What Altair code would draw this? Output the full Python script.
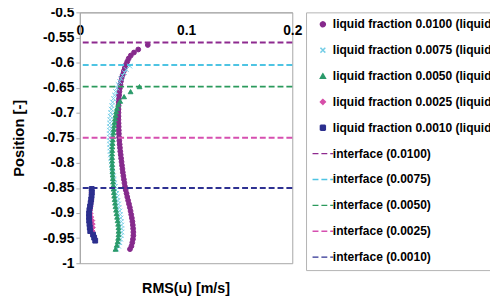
import altair as alt
import pandas as pd

FONT = "Liberation Sans"

point_labels = [
    "liquid fraction 0.0100 (liquid",
    "liquid fraction 0.0075 (liquid",
    "liquid fraction 0.0050 (liquid",
    "liquid fraction 0.0025 (liquid",
    "liquid fraction 0.0010 (liquid",
]
iface_labels = [
    "interface (0.0100)",
    "interface (0.0075)",
    "interface (0.0050)",
    "interface (0.0025)",
    "interface (0.0010)",
]
iface_y = [-0.56, -0.605, -0.648, -0.75, -0.85]

# (position, RMS(u)) pairs
s0100 = [(-0.565, 0.064), (-0.574, 0.055), (-0.580, 0.051), (-0.586, 0.048), (-0.592, 0.046),
         (-0.598, 0.0447), (-0.604, 0.0435), (-0.611, 0.0423), (-0.617, 0.0414), (-0.624, 0.0404),
         (-0.630, 0.0395), (-0.637, 0.0388), (-0.644, 0.0382), (-0.651, 0.0377), (-0.658, 0.0373),
         (-0.665, 0.0370), (-0.672, 0.0368), (-0.679, 0.0366), (-0.686, 0.0365), (-0.693, 0.0364),
         (-0.700, 0.0364), (-0.707, 0.0364), (-0.714, 0.0364), (-0.721, 0.0365), (-0.728, 0.0366),
         (-0.735, 0.0367), (-0.742, 0.0368), (-0.749, 0.0370), (-0.756, 0.0372), (-0.763, 0.0375),
         (-0.770, 0.0378), (-0.777, 0.0381), (-0.784, 0.0385), (-0.791, 0.0389), (-0.798, 0.0393),
         (-0.805, 0.0397), (-0.812, 0.0401), (-0.819, 0.0405), (-0.826, 0.0410), (-0.833, 0.0415),
         (-0.840, 0.0420), (-0.847, 0.0425), (-0.854, 0.0432), (-0.861, 0.0440), (-0.868, 0.0447),
         (-0.875, 0.0455), (-0.882, 0.0463), (-0.889, 0.0471), (-0.896, 0.0478), (-0.903, 0.0484),
         (-0.910, 0.0490), (-0.917, 0.0495), (-0.924, 0.0499), (-0.931, 0.0502), (-0.938, 0.0504),
         (-0.945, 0.0504), (-0.952, 0.0500), (-0.959, 0.0494), (-0.966, 0.0486), (-0.972, 0.0472)]
s0075 = [(-0.607, 0.0470), (-0.614, 0.0438), (-0.620, 0.0420), (-0.626, 0.0402), (-0.632, 0.0388),
         (-0.638, 0.0375), (-0.644, 0.0362), (-0.651, 0.0350), (-0.658, 0.0338), (-0.665, 0.0327),
         (-0.672, 0.0317), (-0.679, 0.0309), (-0.686, 0.0302), (-0.693, 0.0296), (-0.700, 0.0291),
         (-0.707, 0.0287), (-0.714, 0.0284), (-0.721, 0.0282), (-0.728, 0.0281), (-0.735, 0.0280),
         (-0.742, 0.0280), (-0.749, 0.0280), (-0.756, 0.0281), (-0.763, 0.0282), (-0.770, 0.0284),
         (-0.777, 0.0286), (-0.784, 0.0289), (-0.791, 0.0292), (-0.798, 0.0296), (-0.805, 0.0300),
         (-0.812, 0.0305), (-0.819, 0.0310), (-0.826, 0.0316), (-0.833, 0.0322), (-0.840, 0.0328),
         (-0.847, 0.0334), (-0.854, 0.0340), (-0.861, 0.0346), (-0.868, 0.0352), (-0.875, 0.0358),
         (-0.882, 0.0364), (-0.889, 0.0370), (-0.896, 0.0376), (-0.903, 0.0381), (-0.910, 0.0386),
         (-0.917, 0.0390), (-0.924, 0.0393), (-0.931, 0.0395), (-0.938, 0.0394), (-0.945, 0.0390),
         (-0.952, 0.0384), (-0.959, 0.0376), (-0.966, 0.0365), (-0.972, 0.0348)]
s0050 = [(-0.648, 0.0562), (-0.658, 0.0478), (-0.668, 0.0417), (-0.677, 0.0380), (-0.684, 0.0362),
         (-0.691, 0.0350), (-0.698, 0.0342), (-0.705, 0.0336), (-0.712, 0.0331), (-0.719, 0.0327),
         (-0.726, 0.0323), (-0.733, 0.0319), (-0.740, 0.0316), (-0.747, 0.0313), (-0.754, 0.0310),
         (-0.761, 0.0308), (-0.768, 0.0306), (-0.775, 0.0305), (-0.782, 0.0304), (-0.789, 0.0304),
         (-0.796, 0.0304), (-0.803, 0.0305), (-0.810, 0.0306), (-0.817, 0.0307), (-0.824, 0.0309),
         (-0.831, 0.0311), (-0.838, 0.0313), (-0.845, 0.0315), (-0.852, 0.0318), (-0.859, 0.0321),
         (-0.866, 0.0324), (-0.873, 0.0328), (-0.880, 0.0332), (-0.887, 0.0336), (-0.894, 0.0341),
         (-0.901, 0.0346), (-0.908, 0.0351), (-0.915, 0.0356), (-0.922, 0.0361), (-0.929, 0.0364),
         (-0.936, 0.0365), (-0.943, 0.0364), (-0.950, 0.0361), (-0.957, 0.0356), (-0.964, 0.0348),
         (-0.972, 0.0336)]
s0025 = [(-0.852, 0.0112), (-0.859, 0.0111), (-0.866, 0.0110), (-0.873, 0.0108), (-0.880, 0.0105),
         (-0.887, 0.0102), (-0.894, 0.0100), (-0.901, 0.0102), (-0.908, 0.0108), (-0.915, 0.0118),
         (-0.922, 0.0122), (-0.929, 0.0123), (-0.936, 0.0121), (-0.943, 0.0118)]
s0010 = [(-0.852, 0.0112), (-0.859, 0.0113), (-0.866, 0.0111), (-0.873, 0.0107), (-0.880, 0.0102),
         (-0.887, 0.0096), (-0.894, 0.0090), (-0.901, 0.0087), (-0.908, 0.0087), (-0.915, 0.0088),
         (-0.922, 0.0091), (-0.929, 0.0094), (-0.936, 0.0098), (-0.943, 0.0125), (-0.949, 0.0135),
         (-0.955, 0.0145)]

point_colors = ["#862a8c", "#74cde6", "#2a9a6a", "#d64ea8", "#2c2f8e"]
iface_colors = ["#8e2a8f", "#4ec4e3", "#2b9a5c", "#d64fb0", "#2e3192"]
point_shapes = ["circle", "M-1,-1L1,1M-1,1L1,-1", "triangle-up", "diamond", "square"]
iface_shape = "M-4.2,0L4.2,0"
point_dash = [1, 0]
iface_dash = [6, 3]

y_ticks = [-0.5, -0.55, -0.6, -0.65, -0.7, -0.75, -0.8, -0.85, -0.9, -0.95, -1.0]
x_ticks = [0, 0.1, 0.2]

rows = []
for lab, pts in zip(point_labels, [s0100, s0075, s0050, s0025, s0010]):
    for yv, xv in pts:
        rows.append({"series": lab, "x": xv, "y": yv})
points = pd.DataFrame(rows)
ifaces = pd.DataFrame({"series": iface_labels, "y": iface_y})

domain = point_labels + iface_labels
colors = point_colors + iface_colors
shapes = point_shapes + [iface_shape] * 5
dashes = [point_dash] * 5 + [iface_dash] * 5

xs = alt.Scale(domain=[0, 0.2], nice=False, zero=False)
ys = alt.Scale(domain=[-1, -0.5], nice=False, zero=False)
leg = alt.Legend(title=None)

x_axis = alt.Axis(orient="top", values=x_ticks, format="~g", ticks=False, tickSize=0,
                  labelPadding=-18, labelBaseline="middle", labelFlush=False,
                  labelOverlap=False, title=None, grid=False)
y_axis = alt.Axis(values=y_ticks, labelExpr="'-' + format(abs(datum.value), '~g')",
                  title="Position [-]", grid=False, tickSize=4, labelPadding=2,
                  labelOverlap=False, labelFlush=False, titlePadding=16,
                  titleFontSize=15)

pts = alt.Chart(points).mark_point(filled=True, size=24, strokeWidth=1, opacity=1).encode(
    x=alt.X("x:Q", scale=xs, axis=x_axis),
    y=alt.Y("y:Q", scale=ys, axis=y_axis),
    fill=alt.Fill("series:N", scale=alt.Scale(domain=domain, range=colors), legend=leg),
    stroke=alt.Stroke("series:N", scale=alt.Scale(domain=domain, range=colors), legend=leg),
    shape=alt.Shape("series:N", scale=alt.Scale(domain=domain, range=shapes), legend=leg),
)

rules = alt.Chart(ifaces).mark_rule(strokeWidth=2).encode(
    y=alt.Y("y:Q", scale=ys, axis=y_axis),
    stroke=alt.Stroke("series:N", scale=alt.Scale(domain=domain, range=colors), legend=leg),
    strokeDash=alt.StrokeDash("series:N", scale=alt.Scale(domain=domain, range=dashes), legend=leg),
)

chart = alt.layer(pts, rules).properties(
    width=216,
    height=255,
    autosize=alt.AutoSizeParams(type="none"),
    padding={"left": 73, "top": 2, "right": 201, "bottom": 38},
    title=alt.TitleParams("RMS(u) [m/s]", orient="bottom", font=FONT, fontSize=14.5,
                          fontWeight="bold", color="black", offset=12),
).configure_view(
    stroke="#a6a6a6", strokeWidth=1
).configure_axis(
    labelFont=FONT, labelFontSize=14, labelFontWeight="bold", labelColor="black",
    titleFont=FONT, titleFontWeight="bold", titleColor="black",
    domainColor="#a6a6a6", tickColor="#a6a6a6",
).configure_legend(
    orient="none", legendX=230, legendY=0, padding=6, strokeColor="#b3b3b3",
    labelFont=FONT, labelFontSize=12.2, labelFontWeight="bold", labelColor="black",
    labelLimit=400, labelOffset=4, rowPadding=13.3, symbolSize=25,
    symbolStrokeWidth=1.5, symbolOffset=5, columns=1,
)

chart.save("out.html", embed_options={"renderer": "svg", "actions": False})
